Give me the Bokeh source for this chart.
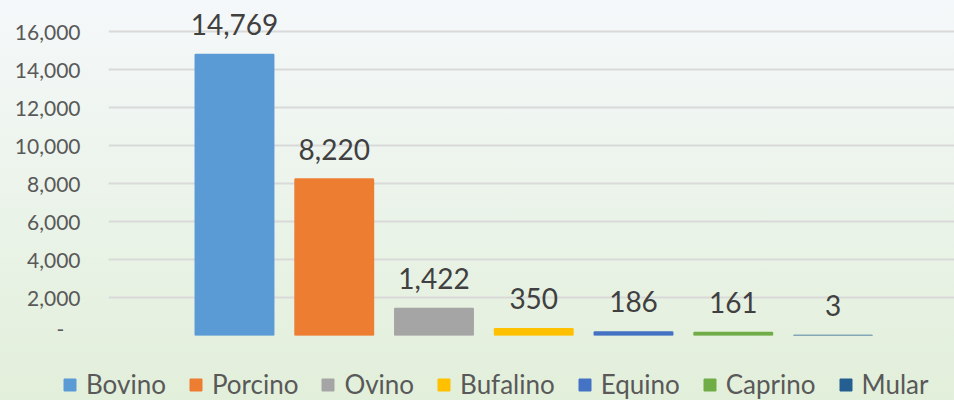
from bokeh.plotting import figure
from bokeh.layouts import column
from bokeh.models import ColumnDataSource, Range1d, FixedTicker, Legend, LegendItem
from bokeh.core.properties import value
from bokeh.embed import file_html
from bokeh.resources import INLINE

categories = ["Bovino", "Porcino", "Ovino", "Bufalino", "Equino", "Caprino", "Mular"]
values = [14769, 8220, 1422, 350, 186, 161, 3]
colors = ["#5B9BD5", "#ED7D31", "#A5A5A5", "#FFC000", "#4472C4", "#70AD47", "#255E91"]
tick_values = [0, 2000, 4000, 6000, 8000, 10000, 12000, 14000, 16000]
tick_labels = ["-\u00a0\u00a0\u00a0", "2,000", "4,000", "6,000", "8,000", "10,000", "12,000", "14,000", "16,000"]

FONT = "Lato"

# main chart
p = figure(width=954, height=340, output_backend="svg", toolbar_location=None,
           x_range=Range1d(-1.263, 7.218), y_range=Range1d(0, 17613),
           min_border_left=108, min_border_right=0, min_border_top=0, min_border_bottom=5)
p.frame_align = False
p.background_fill_alpha = 0
p.border_fill_alpha = 0
p.outline_line_color = None

p.xaxis.visible = False
p.xgrid.visible = False

p.yaxis.ticker = FixedTicker(ticks=tick_values)
p.yaxis.major_label_overrides = {v: l for v, l in zip(tick_values, tick_labels)}
p.yaxis.axis_line_color = None
p.yaxis.major_tick_line_color = None
p.yaxis.minor_tick_line_color = None
p.yaxis.major_tick_out = 0
p.yaxis.major_label_standoff = 28
p.yaxis.major_label_text_font = FONT
p.yaxis.major_label_text_font_size = "21px"
p.yaxis.major_label_text_color = "#595959"

p.ygrid.ticker = FixedTicker(ticks=tick_values)
p.ygrid.grid_line_color = "#d9d9d9"
p.ygrid.grid_line_width = 2

# legend strip (no axes, frame spans the whole strip; its range keeps the bars out of view)
p2 = figure(width=954, height=60, output_backend="svg", toolbar_location=None,
            x_range=Range1d(100, 101), y_range=Range1d(100000, 100001),
            x_axis_location=None, y_axis_location=None,
            min_border_left=0, min_border_right=0, min_border_top=0, min_border_bottom=0)
p2.frame_align = False
p2.background_fill_alpha = 0
p2.border_fill_alpha = 0
p2.outline_line_color = None
p2.grid.visible = False

items = []
for i, (c, v, col) in enumerate(zip(categories, values, colors)):
    src = ColumnDataSource(dict(x=[i], top=[v], label=[f"{v:,}"]))
    p.vbar(x="x", top="top", bottom=0, width=0.785, source=src,
           fill_color=col, line_color=col, line_width=1.6)
    p.text(x="x", y="top", text="label", source=src, text_align="center",
           text_baseline="alphabetic", y_offset=-30, text_font=value(FONT),
           text_font_size="28px", text_color="#404040")
    r2 = p2.vbar(x="x", top="top", bottom=0, width=0.785, source=src,
                 fill_color=col, line_color=col)
    items.append(LegendItem(label=c, renderers=[r2]))

legend = Legend(items=items, orientation="horizontal", location=(62, 0),
                glyph_width=15, glyph_height=15, label_standoff=9, spacing=22,
                padding=0, margin=0, border_line_color=None, background_fill_alpha=0,
                label_text_font=FONT, label_text_font_size="26px", label_text_color="#595959")
p2.add_layout(legend, "center")

layout = column(p, p2, spacing=0)
layout.styles = {"background": "linear-gradient(to bottom, #f5f8fa 0%, #eaf3e8 55%, #e2efda 100%)"}

open("out.html", "w").write(file_html(layout, INLINE))
